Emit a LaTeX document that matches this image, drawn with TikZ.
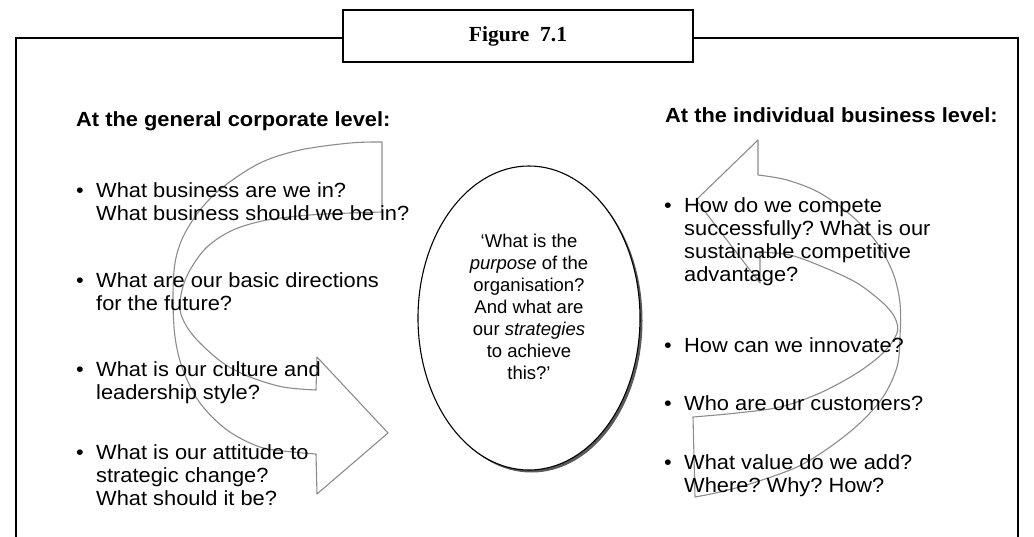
\documentclass[tikz,border=0pt]{standalone}
\usepackage{fontspec}
\usetikzlibrary{shapes.geometric,shadows}
\setmainfont{Liberation Sans}
\newfontfamily\bodyfont[FakeStretch=1.065]{Liberation Sans}
\newfontfamily\titlefont{Liberation Serif}
\newcommand{\bdot}{\makebox[20pt][l]{\textbullet}}
\newcommand{\bpad}{\hspace*{20pt}}
\frenchspacing
\begin{document}
\begin{tikzpicture}[x=1pt,y=-1pt,
  frame/.style={line width=1.8pt, black},
  ribbon/.style={draw=black!45, line width=1.1pt, line join=round},
  heading/.style={anchor=west, inner sep=0pt, text=black,
    font=\bodyfont\bfseries\fontsize{20.5}{23}\selectfont},
  item/.style={anchor=north west, inner sep=0pt, align=left, text=black,
    font=\bodyfont\fontsize{20.5}{23}\selectfont},
  purposebox/.style={ellipse, draw=black, line width=1.1pt, fill=white,
    minimum width=222pt, minimum height=304pt, inner sep=0pt,
    drop shadow={shadow xshift=2.5pt, shadow yshift=-2.5pt, fill=black!65, opacity=1}},
  purposetext/.style={align=center, inner sep=0pt, text=black,
    font=\fontsize{18.5}{22}\selectfont},
  titlebox/.style={draw=black, line width=1.8pt, fill=white,
    minimum width=350pt, minimum height=52pt, inner sep=0pt,
    font=\titlefont\bfseries\fontsize{21.5}{24}\selectfont}
]
\useasboundingbox (0,0) rectangle (1034,536);
\fill[white] (0,0) rectangle (1034,536);

% outer frame, open at the bottom
\coordinate (fbl) at (16,537);
\coordinate (ftl) at (16,38);
\coordinate (ftr) at (1018,38);
\coordinate (fbr) at (1018,537);
\node[titlebox] (title) at (518,36) {Figure\ \ 7.1};
\draw[frame] (fbl) -- (ftl) -- (title.west |- ftl);
\draw[frame] (title.east |- ftr) -- (ftr) -- (fbr);

% curved ribbon arrow on the corporate side
\draw[ribbon]
  plot[smooth, tension=0.55] coordinates {(382,142) (350,143) (300,150) (260,163)
    (223,187) (200,210) (183,237) (175,263) (173,297) (175,337) (183,370)
    (200,403) (227,430) (260,447) (293,452) (316,454)}
  -- (317,494) -- (388,433) -- (317,357) -- (316,390)
  -- plot[smooth, tension=0.55] coordinates {(316,390) (283,387) (250,377)
    (223,363) (200,343) (187,327) (180,310) (182,290) (190,270) (207,247)
    (233,230) (267,220) (310,215) (350,213) (382,212)}
  -- cycle;

% curved ribbon arrow on the business side
\draw[ribbon]
  (758,140) -- (758,175)
  -- plot[smooth, tension=0.55] coordinates {(758,175) (787,180) (820,193)
    (853,217) (877,243) (893,273) (900,303) (900,337) (897,367) (883,397)
    (860,423) (830,447) (797,467) (753,483) (720,492) (695,497)}
  -- (693,417)
  -- plot[smooth, tension=0.55] coordinates {(693,417) (737,413) (780,407)
    (820,393) (857,373) (883,353) (897,333) (895,318) (883,303) (857,283)
    (823,267) (790,255) (760,252)}
  -- (760,283) -- (696,200) -- cycle;

% central question
\node[purposebox] (purpose) at (529,318) {};
\node[purposetext] (purposeq) at (529,307)
  {‘What is the\\\textit{purpose} of the\\organisation?\\And what are\\our \textit{strategies}\\to achieve\\this?’};

% corporate level
\node[heading] (corph) at (76,121) {At the general corporate level:};
\node[item] (c1) at (76,182) {\bdot What business are we in?\\\bpad What business should we be in?};
\node[item] (c2) at (76,272) {\bdot What are our basic directions\\\bpad for the future?};
\node[item] (c3) at (76,361) {\bdot What is our culture and\\\bpad leadership style?};
\node[item] (c4) at (76,444) {\bdot What is our attitude to\\\bpad strategic change?\\\bpad What should it be?};

% business level
\node[heading] (bush) at (665,115) {At the individual business level:};
\node[item] (b1) at (664,197) {\bdot How do we compete\\\bpad successfully? What is our\\\bpad sustainable competitive\\\bpad advantage?};
\node[item] (b2) at (664,337) {\bdot How can we innovate?};
\node[item] (b3) at (664,395) {\bdot Who are our customers?};
\node[item] (b4) at (664,454) {\bdot What value do we add?\\\bpad Where? Why? How?};
\end{tikzpicture}
\end{document}
